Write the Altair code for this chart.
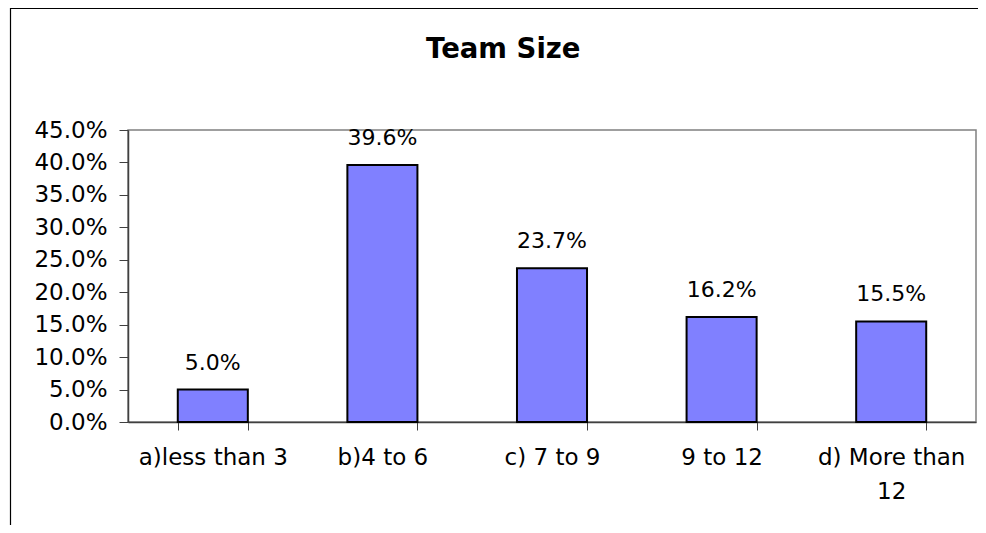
import altair as alt
import pandas as pd

categories = ["a)less than 3", "b)4 to 6", "c) 7 to 9", "9 to 12", "d) More than 12"]
values = [0.050, 0.396, 0.237, 0.162, 0.155]
y_ticks = [0.0, 0.05, 0.10, 0.15, 0.20, 0.25, 0.30, 0.35, 0.40, 0.45]

df = pd.DataFrame({"cat": categories, "val": values})
FONT = "DejaVu Sans"

x_enc = alt.X(
    "cat:N",
    sort=categories,
    title=None,
    scale=alt.Scale(paddingInner=0.587, paddingOuter=0.2935),
    axis=alt.Axis(
        labelAngle=0,
        labelFontSize=23,
        labelFont=FONT,
        labelColor="black",
        labelPadding=16,
        labelLineHeight=34,
        labelOverlap=False,
        labelExpr="datum.label == 'd) More than 12' ? ['d) More than', '12'] : datum.label",
        tickBand="extent",
        tickSize=8,
        tickColor="#404040",
        domainColor="#404040",
        domainWidth=1.5,
        grid=False,
    ),
)
y_enc = alt.Y(
    "val:Q",
    title=None,
    scale=alt.Scale(domain=[0, 0.45], nice=False, zero=True),
    axis=alt.Axis(
        values=y_ticks,
        format=".1%",
        labelFontSize=23,
        labelFont=FONT,
        labelColor="black",
        labelPadding=12,
        labelOverlap=False,
        labelBound=False,
        tickSize=9,
        tickColor="#404040",
        domainColor="#404040",
        domainWidth=1.5,
        grid=False,
    ),
)

bars = alt.Chart(df).mark_bar(
    color="#8080FF", stroke="black", strokeWidth=2
).encode(x=x_enc, y=y_enc)

labels = alt.Chart(df).mark_text(
    font=FONT, fontSize=22, color="black", baseline="alphabetic", dy=-20
).encode(
    x=x_enc,
    y=y_enc,
    text=alt.Text("val:Q", format=".1%"),
)

border = alt.Chart(pd.DataFrame({"a": [0]})).mark_rect(
    filled=False, stroke="black", strokeWidth=1.2
).encode(
    x=alt.value(-117.5), x2=alt.value(868), y=alt.value(-121.5), y2=alt.value(520)
)

chart = alt.layer(border, bars, labels).properties(
    width=848,
    height=292,
    autosize=alt.AutoSizeParams(type="none"),
    padding={"left": 120, "top": 122, "right": 2, "bottom": 103},
    title=alt.TitleParams(
        "Team Size",
        font=FONT,
        fontSize=27.5,
        fontWeight="bold",
        color="black",
        anchor="middle",
        frame="bounds",
        baseline="alphabetic",
        offset=-78,
    ),
).configure_view(stroke="#808080", strokeWidth=1.5)

chart.save("out.html", embed_options={"renderer": "svg", "actions": False})
